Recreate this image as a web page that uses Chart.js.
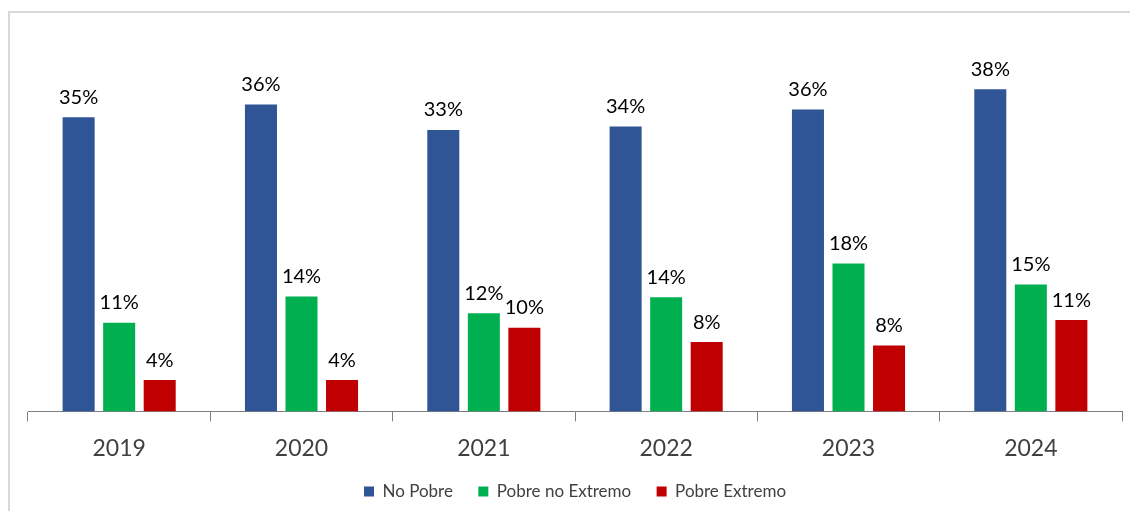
<!DOCTYPE html>
<html>
<head>
<meta charset="utf-8">
<script src="https://cdn.jsdelivr.net/npm/chart.js@4/dist/chart.umd.min.js"></script>
<style>
  body { margin: 0; background: #fff; }
  .frame { position: absolute; left: 8px; top: 11px; width: 1200px; height: 600px;
           border-left: 2px solid #d9d9d9; border-top: 2px solid #d9d9d9; }
  .wrap { position: absolute; left: 0; top: 0; width: 1130px; height: 511px; }
</style>
</head>
<body>
<div class="frame"></div>
<div class="wrap"><canvas id="chart" width="1130" height="511"></canvas></div>
<script>
const years = ['2019', '2020', '2021', '2022', '2023', '2024'];
const noPobre = [34.8, 36.3, 33.3, 33.7, 35.7, 38.1];
const pobreNoExtremo = [10.5, 13.6, 11.6, 13.5, 17.5, 15.0];
const pobreExtremo = [3.7, 3.7, 9.9, 8.2, 7.8, 10.8];

const fontFamily = 'Lato, "Open Sans", sans-serif';

const barLabels = {
    id: 'barLabels',
    afterDatasetsDraw(chart) {
        const ctx = chart.ctx;
        ctx.save();
        ctx.font = '20px ' + fontFamily;
        ctx.fillStyle = '#000';
        ctx.textAlign = 'center';
        ctx.textBaseline = 'bottom';
        chart.data.datasets.forEach((ds, i) => {
            const meta = chart.getDatasetMeta(i);
            meta.data.forEach((bar, j) => {
                ctx.fillText(Math.round(ds.data[j]) + '%', bar.x, bar.y - 10);
            });
        });
        ctx.restore();
    }
};

const chart = document.querySelector('#chart').getContext('2d');
new Chart(chart, {
    type: 'bar',
    data: {
        labels: years,
        datasets: [
            { label: 'No Pobre', data: noPobre, backgroundColor: '#2F5597' },
            { label: 'Pobre no Extremo', data: pobreNoExtremo, backgroundColor: '#00B050' },
            { label: 'Pobre Extremo', data: pobreExtremo, backgroundColor: '#C00000' }
        ]
    },
    options: {
        responsive: false,
        animation: false,
        layout: { padding: { left: 28, right: 8, top: 31, bottom: 1 } },
        datasets: { bar: { categoryPercentage: 0.667, barPercentage: 0.79 } },
        scales: {
            x: {
                grid: { offset: true, drawOnChartArea: false, drawTicks: true, tickLength: 10, color: '#7f7f7f' },
                border: { color: '#7f7f7f', width: 1 },
                ticks: { color: '#404040', font: { family: fontFamily, size: 23 }, padding: 13 }
            },
            y: { display: false, min: 0, max: 45 }
        },
        plugins: {
            legend: {
                position: 'bottom',
                labels: {
                    boxWidth: 10, boxHeight: 10, padding: 8, color: '#404040',
                    font: { family: fontFamily, size: 17 },
                    generateLabels(c) {
                        const items = Chart.defaults.plugins.legend.labels.generateLabels(c);
                        items.forEach((it, i) => { if (i < items.length - 1) it.text = it.text + '    '; });
                        return items;
                    }
                }
            },
            tooltip: { enabled: false }
        }
    },
    plugins: [barLabels]
});
</script>
</body>
</html>
